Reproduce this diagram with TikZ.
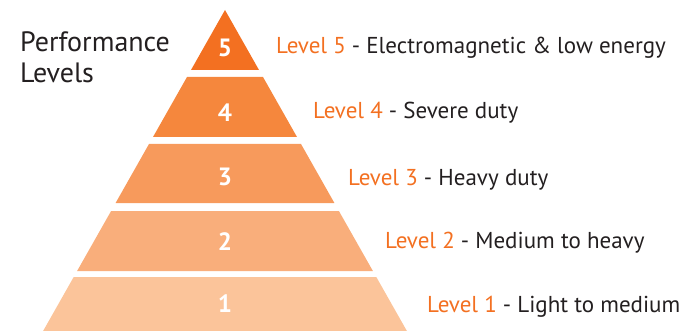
\documentclass[tikz,border=0pt]{standalone}
\usepackage{fontspec}
\setmainfont{PT Sans}
\usepackage{tikz}

\definecolor{lvfive}{HTML}{F37021}
\definecolor{lvfour}{HTML}{F5873D}
\definecolor{lvthree}{HTML}{F79A5C}
\definecolor{lvtwo}{HTML}{F9AE7B}
\definecolor{lvone}{HTML}{FBC49A}
\definecolor{darktext}{HTML}{231F20}

\begin{document}
\begin{tikzpicture}[
    x=1pt, y=-1pt,
    num/.style={text=white, font=\fontsize{25}{25}\selectfont\bfseries, anchor=center},
    lbl/.style={text=darktext, font=\fontsize{23}{23}\selectfont, anchor=base west, inner sep=0pt},
    ttl/.style={text=darktext, font=\fontsize{28}{31}\selectfont, anchor=base west, inner sep=0pt, align=left}
]
\useasboundingbox (0,0) rectangle (692,331);

% pyramid bands
\fill[lvfive]  (225,10) -- (259,70) -- (191,70) -- cycle;
\fill[lvfour]  (187,77) -- (263,77) -- (297,137) -- (153,137) -- cycle;
\fill[lvthree] (149,144) -- (301,144) -- (334.4,203) -- (115.6,203) -- cycle;
\fill[lvtwo]   (111.1,211) -- (338.9,211) -- (372.9,271) -- (77.1,271) -- cycle;
\fill[lvone]   (73.7,277) -- (376.3,277) -- (406.9,331) -- (43.1,331) -- cycle;

\node[num] (n5) at (225,48) {5};
\node[num] (n4) at (225,113) {4};
\node[num] (n3) at (225,177) {3};
\node[num] (n2) at (225,242) {2};
\node[num] (n1) at (225,304) {1};

\node[ttl] (title) at (20,83) {Performance\\Levels};

\node[lbl] (l5) at (276,54) {\textcolor{lvfive}{Level 5} - Electromagnetic \& low energy};
\node[lbl] (l4) at (313,119) {\textcolor{lvfive}{Level 4} - Severe duty};
\node[lbl] (l3) at (348,185) {\textcolor{lvfive}{Level 3} - Heavy duty};
\node[lbl] (l2) at (385,248) {\textcolor{lvfive}{Level 2} - Medium to heavy};
\node[lbl] (l1) at (427,312) {\textcolor{lvfive}{Level 1} - Light to medium};
\end{tikzpicture}
\end{document}
